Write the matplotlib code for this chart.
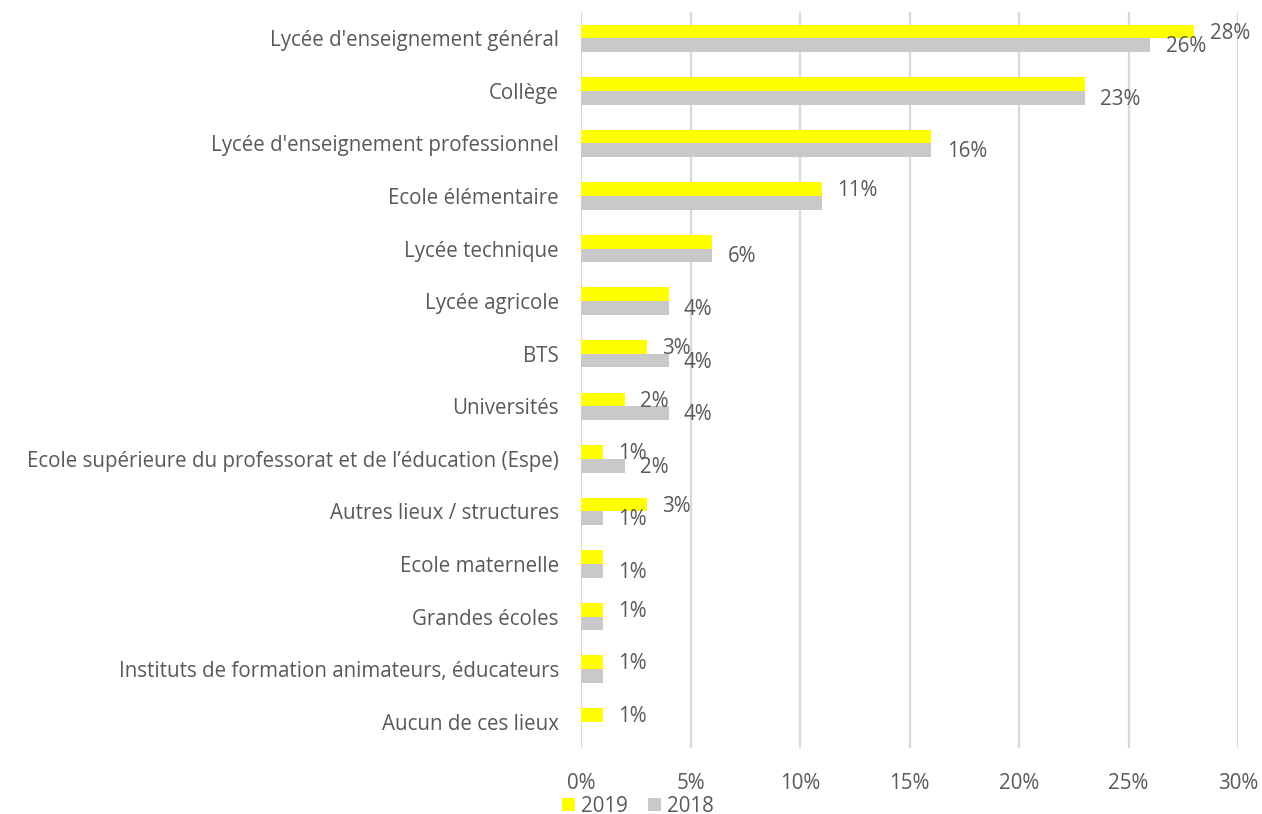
import numpy as np
import matplotlib
matplotlib.use("Agg")
import matplotlib.pyplot as plt
from matplotlib.ticker import FuncFormatter

plt.rcParams['font.family'] = ['Open Sans', 'DejaVu Sans']

categories = [
    "Lycée d'enseignement général",
    "Collège",
    "Lycée d'enseignement professionnel",
    "Ecole élémentaire",
    "Lycée technique",
    "Lycée agricole",
    "BTS",
    "Universités",
    "Ecole supérieure du professorat et de l’éducation (Espe)",
    "Autres lieux / structures",
    "Ecole maternelle",
    "Grandes écoles",
    "Instituts de formation animateurs, éducateurs",
    "Aucun de ces lieux",
]
values_2019 = [28, 23, 16, 11, 6, 4, 3, 2, 1, 3, 1, 1, 1, 1]
values_2018 = [26, 23, 16, 11, 6, 4, 4, 4, 2, 1, 1, 1, 1, 0]
# which data labels are visible in the original (Excel hid the overlapping ones)
show_2019 = [1, 0, 0, 1, 0, 0, 1, 1, 1, 1, 0, 1, 1, 1]
show_2018 = [1, 1, 1, 0, 1, 1, 1, 1, 1, 1, 1, 0, 0, 0]

yellow = '#FFFF00'
grey = '#C9C9C9'
txt = '#595959'
fs = 14.8

fig = plt.figure(figsize=(12.62, 8.14), dpi=100)
ax = fig.add_axes([581 / 1262, 1 - 748 / 814, (1238 - 581) / 1262, (748 - 12) / 814])

n = len(categories)
y = np.arange(n)
h = 0.26
ax.barh(y - h / 2, values_2019, height=h, color=yellow, label='2019', zorder=3)
ax.barh(y + h / 2, values_2018, height=h, color=grey, label='2018', zorder=3)

for i in range(n):
    if show_2019[i]:
        ax.text(values_2019[i] + 0.7, y[i] - h / 2 + 0.03, f"{values_2019[i]}%",
                va='center', ha='left', fontsize=fs, color=txt)
    if show_2018[i]:
        ax.text(values_2018[i] + 0.7, y[i] + h / 2 + 0.03, f"{values_2018[i]}%",
                va='center', ha='left', fontsize=fs, color=txt)

ax.set_ylim(n - 0.5, -0.5)
ax.set_xlim(0, 30)
ax.set_xticks(np.arange(0, 31, 5))
ax.xaxis.set_major_formatter(FuncFormatter(lambda v, p: f"{int(v)}%"))
ax.set_yticks(y)
ax.set_yticklabels(categories)
ax.tick_params(axis='y', length=0, pad=16, labelsize=fs, labelcolor=txt)
ax.tick_params(axis='x', length=0, pad=18, labelsize=fs, labelcolor=txt)
ax.grid(axis='x', color='#D9D9D9', linewidth=1.6, zorder=0)
for s in ax.spines.values():
    s.set_visible(False)

ax.legend(loc='center', bbox_to_anchor=(638 / 1262, 1 - 806 / 814),
          bbox_transform=fig.transFigure, ncol=2, frameon=False,
          fontsize=fs, labelcolor=txt, handlelength=0.6, handleheight=0.6,
          handletextpad=0.3, columnspacing=1.0, borderpad=0)

fig.savefig('out.png', dpi=100)
